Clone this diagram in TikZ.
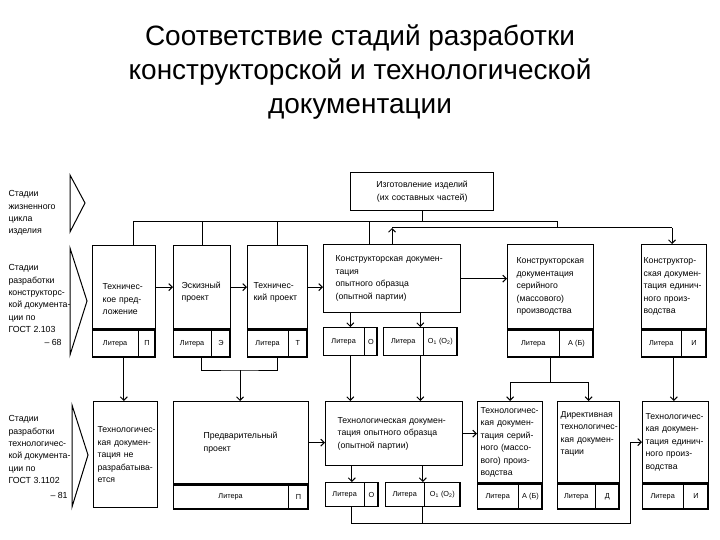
\documentclass[tikz,border=0pt]{standalone}
\usepackage{fontspec}
\setmainfont{Liberation Sans}
\usetikzlibrary{arrows.meta, positioning, calc, shapes.multipart}

% cell of a "Литера" row: width, height, text
\newcommand{\litcell}[3]{\parbox[c][#2][c]{#1}{\centering #3}}
% fonts, no break after a hyphen
\newcommand{\boxfont}{\fontsize{8.7bp}{12.5bp}\selectfont\exhyphenpenalty=10000\relax\hyphenpenalty=10000\relax}
\newcommand{\stagefont}{\fontsize{8.8bp}{12.4bp}\selectfont\exhyphenpenalty=10000\relax}

\tikzset{
  box/.style={draw, line width=1.3bp, anchor=north west, inner xsep=4bp, inner ysep=2bp,
    align=left, font=\boxfont},
  lit/.style={draw, line width=1.3bp, anchor=north west, rectangle split,
    rectangle split horizontal, rectangle split parts=2, inner sep=0pt,
    font=\fontsize{7.3bp}{9bp}\selectfont},
  stage/.style={anchor=north west, align=left, inner sep=0pt, font=\stagefont},
  arr/.style={-{Straight Barb[length=3.5bp,width=7bp]}},
  conn/.style={line width=1bp}
}

\begin{document}
\begin{tikzpicture}[x=1bp, y=-1bp, conn]

\fill[white] (0,0) rectangle (720,540);
\useasboundingbox (0,0) rectangle (720,540);

% title
\node[align=center, font=\fontsize{28bp}{34bp}\selectfont] (title) at (360,72)
  {Соответствие стадий разработки\\конструкторской и технологической\\документации};

% stages on the left
\node[stage] (s1) at (8,190) {Стадии\\жизненного\\цикла\\изделия};
\node[stage] (s2) at (8,264) {Стадии\\разработки\\конструкторс-\\кой документа-\\ции по\\ГОСТ 2.103\\\hspace*{36bp}-- 68};
\node[stage] (s3) at (8,415) {Стадии\\разработки\\технологичес-\\кой документа-\\ции по\\ГОСТ 3.1102\\[2bp]\hspace*{42bp}-- 81};
\draw (70,175) -- (85,203) -- (70,232) -- cycle;
\draw (70,248) -- (87,301) -- (70,355) -- cycle;
\draw (72,405) -- (88,455) -- (72,507) -- cycle;

% design documentation
\node[box, align=center, text width=135bp, minimum height=38bp] (top) at (350,172)
  {Изготовление изделий\\(их составных частей)};

\node[box, inner xsep=10bp, text width=43bp, minimum height=83bp] (k1) at (92,245) {\rule{0pt}{30bp}Техничес-\\кое~пред-\\ложение};
\node[lit] (l1) at (k1.south west) {\litcell{45bp}{27bp}{Литера}\nodepart{two}\litcell{16bp}{27bp}{П}};

\node[box, inner xsep=8bp, text width=41bp, minimum height=83bp] (k2) at (173,245) {\rule{0pt}{17bp}Эскизный\\проект};
\node[lit] (l2) at (k2.south west) {\litcell{37bp}{27bp}{Литера}\nodepart{two}\litcell{18bp}{27bp}{Э}};

\node[box, inner xsep=6bp, text width=48bp, minimum height=83bp] (k3) at (247,245) {\rule{0pt}{17bp}Техничес-\\кий~проект};
\node[lit] (l3) at (k3.south west) {\litcell{40bp}{27bp}{Литера}\nodepart{two}\litcell{18bp}{27bp}{Т}};

\node[box, inner xsep=12bp, text width=113bp, minimum height=68bp] (k4) at (323,244)
  {Конструкторская~докумен-\\тация\\опытного~образца\\(опытной~партии)};
\node[lit] (la) at (323,327) {\litcell{40bp}{28bp}{Литера}\nodepart{two}\litcell{12bp}{28bp}{О}};
\node[lit] (lb) at (383,327) {\litcell{39bp}{28bp}{Литера}\nodepart{two}\litcell{33bp}{28bp}{О\textsubscript{1} (О\textsubscript{2})}};

\node[box, inner xsep=9bp, text width=68bp, minimum height=84bp] (k5) at (507,244)
  {Конструкторская\\документация\\серийного\\(массового)\\производства};
\node[lit] (l5) at (k5.south west) {\litcell{51bp}{27bp}{Литера}\nodepart{two}\litcell{33bp}{27bp}{А (Б)}};

\node[box, inner xsep=2bp, text width=61bp, minimum height=84bp] (k6) at (641,244)
  {Конструктор-\\ская~докумен-\\тация~единич-\\ного~произ-\\водства};
\node[lit] (l6) at (k6.south west) {\litcell{39bp}{27bp}{Литера}\nodepart{two}\litcell{24bp}{27bp}{И}};

% technological documentation
\node[box, inner xsep=4bp, text width=56bp, minimum height=106bp] (t1) at (93,401)
  {Технологичес-\\кая~докумен-\\тация~не\\разрабатыва-\\ется};

\node[box, inner xsep=30bp, text width=75bp, minimum height=82bp] (t2) at (173,401) {Предварительный\\проект};
\node[lit] (m2) at (t2.south west) {\litcell{114bp}{24bp}{Литера}\nodepart{two}\litcell{19bp}{24bp}{П}};

\node[box, inner xsep=12bp, text width=113bp, minimum height=64bp] (t3) at (325,401)
  {Технологическая~докумен-\\тация~опытного~образца\\(опытной~партии)};
\node[lit] (ma) at (325,482) {\litcell{38bp}{24bp}{Литера}\nodepart{two}\litcell{13bp}{24bp}{О}};
\node[lit] (mb) at (385,482) {\litcell{38bp}{24bp}{Литера}\nodepart{two}\litcell{35bp}{24bp}{О\textsubscript{1} (О\textsubscript{2})}};

\node[box, inner xsep=3bp, text width=59bp, minimum height=81bp] (t4) at (477,401)
  {Технологичес-\\кая~докумен-\\тация~серий-\\ного~(массо-\\вого)~произ-\\водства};
\node[lit] (m4) at (t4.south west) {\litcell{40bp}{25bp}{Литера}\nodepart{two}\litcell{23bp}{25bp}{А (Б)}};

\node[box, inner xsep=3bp, text width=56bp, minimum height=81bp] (t5) at (557,401)
  {Директивная\\технологичес-\\кая~докумен-\\тации\rule[-18bp]{0pt}{0pt}};
\node[lit] (m5) at (t5.south west) {\litcell{37bp}{25bp}{Литера}\nodepart{two}\litcell{23bp}{25bp}{Д}};

\node[box, inner xsep=3bp, text width=60bp, minimum height=81bp] (t6) at (642,401)
  {Технологичес-\\кая~докумен-\\тация~единич-\\ного~произ-\\водства};
\node[lit] (m6) at (t6.south west) {\litcell{40bp}{25bp}{Литера}\nodepart{two}\litcell{24bp}{25bp}{И}};

% upper bus
\coordinate (busL) at (133,222);
\coordinate (busR) at (557,222);
\coordinate (b4) at (369,222);
\coordinate (lowL) at (392,228);
\coordinate (lowR) at (672,228);
\draw (top.south) -- (top.south |- busL);
\draw (busL) -- (busR) -- (busR |- lowL);
\draw (busL) -- (busL |- k1.north);
\draw (k2.north |- busL) -- (k2.north);
\draw (k3.north |- busL) -- (k3.north);
\draw (b4) -- (b4 |- k4.north);
\draw (lowL) -- (lowR);
\draw[arr] (lowL |- k4.north) -- (lowL);
\draw[arr] (lowR) -- (lowR |- k6.north);

% design stages in a row
\draw[arr] (k1.east) -- (k1.east -| k2.west);
\draw[arr] (k2.east) -- (k2.east -| k3.west);
\draw[arr] (k3.east) -- (k3.east -| k4.west);
\draw[arr] (k4.east) -- (k4.east -| k5.west);
\draw[arr] (k4.south -| la.north) -- (la.north);
\draw[arr] (k4.south -| lb.north) -- (lb.north);

% from design to technology
\coordinate (j2) at (240,370);
\draw[arr] (l1.south) -- (l1.south |- t1.north);
\draw (l2.south) |- (j2) -| (l3.south);
\draw[arr] (j2) -- (j2 |- t2.north);
\draw[arr] (la.south) -- (la.south |- t3.north);
\draw[arr] (lb.south) -- (lb.south |- t3.north);
\draw[arr] (l5.south) -- ++(0,25) -| (t4.north);
\draw[arr] (l5.south) ++(0,25) -| (t5.north);
\draw[arr] (l6.south) -- (l6.south |- t6.north);

% technology stages
\coordinate (j6) at (630,523);
\draw[arr] (t2.east) -- (t2.east -| t3.west);
\draw[arr] (t3.east) -- (t3.east -| t4.west);
\draw[arr] (t3.south -| ma.north) -- (ma.north);
\draw[arr] (t3.south -| mb.north) -- (mb.north);
\draw[arr] (ma.south) |- (j6) |- (t6.west);
\draw (mb.south) -- (mb.south |- j6);

\end{tikzpicture}
\end{document}
